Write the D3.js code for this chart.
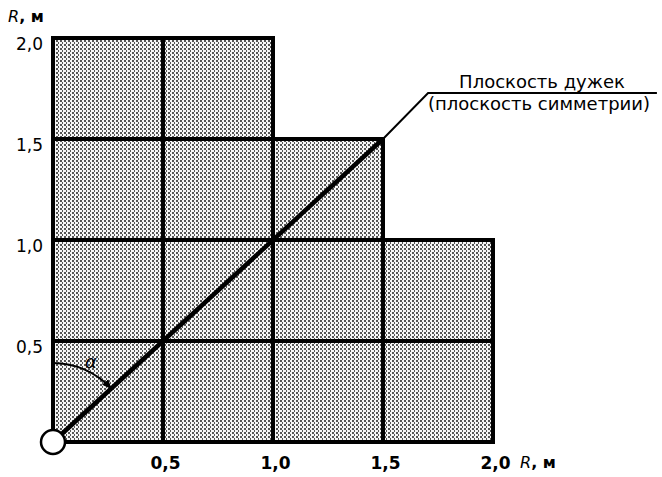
<!DOCTYPE html>
<html>
<head>
<meta charset="utf-8">
<script src="https://d3js.org/d3.v7.min.js"></script>
<style>
  body { margin: 0; background: #fff; }
  svg { display: block; font-family: "DejaVu Sans", sans-serif; }
</style>
</head>
<body>
<svg id="chart" width="662" height="477"></svg>
<script>
// column start (m) and height (m) of the shaded zone
var colStart = [0, 0.5, 1.0, 1.5];
var colTop = [2.0, 2.0, 1.5, 1.0];
var cellSize = 0.5;
var xTicks = [0.5, 1.0, 1.5, 2.0];
var yTicks = [0.5, 1.0, 1.5, 2.0];
var tickFmt = function(d){ return d.toFixed(1).replace(".", ","); };
// plane of the bows: diagonal from origin, then leader to the note
var diag = [[0, 0], [1.5, 1.5]];
var leader = [[1.5, 1.5], [1.705, 1.728], [2.745, 1.728]];
var noteLines = ["Плоскость дужек", "(плоскость симметрии)"];

var svg = d3.select("#chart");
var x = d3.scaleLinear().domain([0, 2]).range([53, 493]);
var y = d3.scaleLinear().domain([0, 2]).range([442, 38]);

// stipple texture
var defs = svg.append("defs");
var pat = defs.append("pattern")
  .attr("id", "dots")
  .attr("patternUnits", "userSpaceOnUse")
  .attr("width", 4).attr("height", 4);
pat.append("rect").attr("width", 4).attr("height", 4).attr("fill", "#f6f6f6");
pat.append("rect").attr("x", 0).attr("y", 0).attr("width", 2).attr("height", 2).attr("fill", "#555");
pat.append("rect").attr("x", 2).attr("y", 2).attr("width", 1).attr("height", 2).attr("fill", "#555");

defs.append("marker")
  .attr("id", "arr")
  .attr("viewBox", "0 0 10 10")
  .attr("refX", 9).attr("refY", 5)
  .attr("markerWidth", 5).attr("markerHeight", 5)
  .attr("orient", "auto")
  .append("path").attr("d", "M0,1 L10,5 L0,9 Z").attr("fill", "#000");

// cells
var cells = [];
colStart.forEach(function(c, i){
  for (var r = 0; r < colTop[i] - 1e-9; r += cellSize) cells.push({x0: c, y0: r});
});
svg.append("g").selectAll("rect")
  .data(cells).enter().append("rect")
  .attr("x", function(d){ return x(d.x0); })
  .attr("y", function(d){ return y(d.y0 + cellSize); })
  .attr("width", function(d){ return x(d.x0 + cellSize) - x(d.x0); })
  .attr("height", function(d){ return y(d.y0) - y(d.y0 + cellSize); })
  .attr("fill", "url(#dots)");
svg.append("g").selectAll("rect")
  .data(cells).enter().append("rect")
  .attr("x", function(d){ return x(d.x0); })
  .attr("y", function(d){ return y(d.y0 + cellSize); })
  .attr("width", function(d){ return x(d.x0 + cellSize) - x(d.x0); })
  .attr("height", function(d){ return y(d.y0) - y(d.y0 + cellSize); })
  .attr("fill", "none")
  .attr("stroke", "#000")
  .attr("stroke-width", 4);

// diagonal + leader
var line = d3.line().x(function(d){ return x(d[0]); }).y(function(d){ return y(d[1]); });
svg.append("path").attr("d", line(diag)).attr("fill", "none").attr("stroke", "#000").attr("stroke-width", 4.5);
svg.append("path").attr("d", line(leader)).attr("fill", "none").attr("stroke", "#000").attr("stroke-width", 2);

svg.append("text").attr("x", 542).attr("y", 88).attr("text-anchor", "middle")
  .attr("font-size", 18).text(noteLines[0]);
svg.append("text").attr("x", 539).attr("y", 110).attr("text-anchor", "middle")
  .attr("font-size", 18).text(noteLines[1]);

// angle alpha
var ox = x(0), oy = y(0);
var ang = Math.atan2(oy - y(1), x(1) - ox);
var rad = 79;
var p = d3.path();
p.arc(ox, oy, rad, -Math.PI / 2, -ang, false);
svg.append("path").attr("d", p.toString()).attr("fill", "none")
  .attr("stroke", "#000").attr("stroke-width", 2).attr("marker-end", "url(#arr)");
svg.append("text").attr("x", 91).attr("y", 368).attr("text-anchor", "middle")
  .attr("font-size", 18).attr("font-style", "italic").text("α");

// origin circle
svg.append("circle").attr("cx", ox).attr("cy", oy).attr("r", 12)
  .attr("fill", "#fff").attr("stroke", "#000").attr("stroke-width", 2.5);

// axes labels
var xAx = svg.append("g").attr("transform", "translate(0," + 454 + ")")
  .call(d3.axisBottom(x).tickValues(xTicks).tickFormat(tickFmt).tickSize(0));
xAx.select(".domain").remove();
xAx.selectAll("text").attr("font-size", 17).attr("font-weight", "bold").attr("fill", "#000")
  .attr("font-family", "DejaVu Sans, sans-serif").attr("dx", 2);

var yAx = svg.append("g").attr("transform", "translate(" + 46 + ",0)")
  .call(d3.axisLeft(y).tickValues(yTicks).tickFormat(tickFmt).tickSize(0));
yAx.select(".domain").remove();
yAx.selectAll("text").attr("font-size", 17).attr("fill", "#000")
  .attr("font-family", "DejaVu Sans, sans-serif").attr("dy", "0.7em");

var t1 = svg.append("text").attr("x", 8).attr("y", 22).attr("font-size", 16).attr("font-weight", "bold");
t1.append("tspan").attr("font-style", "italic").attr("font-weight", "normal").text("R");
t1.append("tspan").text(", м");
var t2 = svg.append("text").attr("x", 520).attr("y", 468).attr("font-size", 16).attr("font-weight", "bold");
t2.append("tspan").attr("font-style", "italic").attr("font-weight", "normal").text("R");
t2.append("tspan").text(", м");
</script>
</body>
</html>
